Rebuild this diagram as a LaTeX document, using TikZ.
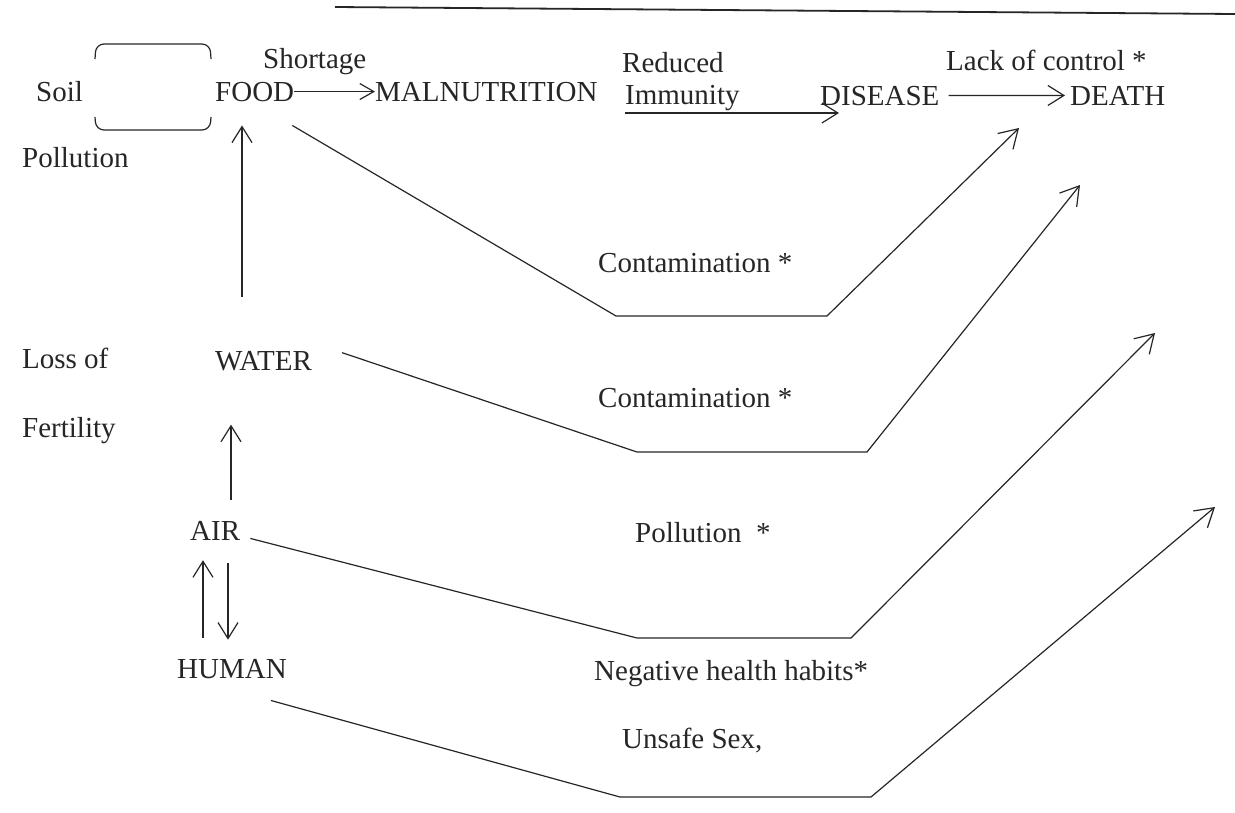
\documentclass[tikz,border=0pt]{standalone}
\usepackage{fontspec}
\setmainfont{Liberation Serif}
\usetikzlibrary{arrows.meta}
\begin{document}
\begin{tikzpicture}[x=1pt,y=-1pt,
  lbl/.style={inner sep=0pt,anchor=base west,text=black!85,font=\fontsize{29}{34}\selectfont},
  ln/.style={draw=black!85,line width=1.2pt,line join=miter},
  arrbig/.style={ln,-{Straight Barb[length=18pt,width=22pt]}},
  arrmid/.style={ln,-{Straight Barb[length=16pt,width=20pt]}},
  arrsmall/.style={ln,-{Straight Barb[length=14pt,width=16pt]}}]
\fill[white!97!black!3] (0,0) rectangle (1235,812);
\useasboundingbox (0,0) rectangle (1235,812);
% top rule
\draw[draw=black!85,line width=1.8pt] (335,7) -- (1235,14);
% left labels
\node[lbl] (soil) at (36,101) {Soil};
\node[lbl] (pollution) at (22,167) {Pollution};
\node[lbl] (loss) at (22,368) {Loss of};
\node[lbl] (fert) at (22,437) {Fertility};
% bracket
\draw[ln,rounded corners=8pt] (95,59) -- (96,44) -- (210,44) -- (211,59);
\draw[ln,rounded corners=8pt] (95,117) -- (96,130) -- (210,130) -- (211,117);
% main row
\node[lbl] (food) at (215,101) {FOOD};
\node[lbl] (shortage) at (263,68) {Shortage};
\node[lbl] (maln) at (375,101) {MALNUTRITION};
\node[lbl] (reduced) at (622,72) {Reduced};
\node[lbl] (immunity) at (625,104) {Immunity};
\node[lbl] (disease) at (820,105) {DISEASE};
\node[lbl] (lack) at (946,70) {Lack of control *};
\node[lbl] (death) at (1070,105) {DEATH};
% column
\node[lbl] (water) at (215,370) {WATER};
\node[lbl] (air) at (190,540) {AIR};
\node[lbl] (human) at (177,678) {HUMAN};
% middle labels
\node[lbl] (cont1) at (598,272) {Contamination *};
\node[lbl] (cont2) at (598,407) {Contamination *};
\node[lbl] (poll2) at (635,542) {Pollution\ \ *};
\node[lbl] (neg) at (594,680) {Negative health habits*};
\node[lbl] (unsafe) at (622,748) {Unsafe Sex,};
% tips and bends
\coordinate (t1) at (1019,128);
\coordinate (t2) at (1080,185);
\coordinate (t3) at (1155,333);
\coordinate (t4) at (1215,507);
% horizontal arrows
\draw[arrsmall] (food.east) -- (maln.west);
\draw[arrmid] ([yshift=-9pt]immunity.base west) -- ([shift={(19pt,-8pt)}]disease.base west);
\draw[arrmid] ([xshift=9pt]disease.east) -- ([xshift=-5pt]death.west);
% vertical arrows
\draw[arrmid] ([shift={(27pt,54pt)}]water.north west) -- ([shift={(27pt,-24pt)}]food.south west);
\draw[arrmid] ([shift={(41pt,21pt)}]air.north west) -- ([shift={(16pt,-54pt)}]water.south west);
\draw[arrmid] ([shift={(26pt,21pt)}]human.north west) -- ([shift={(13pt,-20pt)}]air.south west);
\draw[arrmid] ([shift={(38pt,-23pt)}]air.south west) -- ([shift={(51pt,19pt)}]human.north west);
% diagonal paths to DEATH
\draw[arrbig] ([shift={(-2pt,-24pt)}]food.south east) -- (616,316) -- (827,316) -- (t1);
\draw[arrbig] ([shift={(30pt,8pt)}]water.east) -- (637,452) -- (867,452) -- (t2);
\draw[arrbig] ([shift={(10pt,-8pt)}]air.east) -- (637,638) -- (851,638) -- (t3);
\draw[arrbig] ([shift={(-16pt,-22pt)}]human.south east) -- (620,797) -- (871,797) -- (t4);
\end{tikzpicture}
\end{document}
